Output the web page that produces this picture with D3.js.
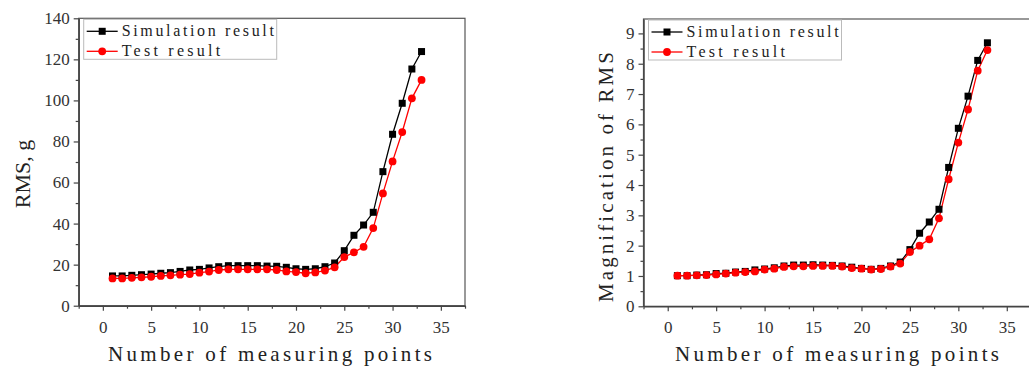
<!DOCTYPE html>
<html>
<head>
<meta charset="utf-8" />
<title>RMS charts</title>
<script src="https://cdn.jsdelivr.net/npm/d3@7"></script>
<style>
  html, body { margin: 0; padding: 0; background: #fff; }
  svg { display: block; }
  .tick text { font-family: "Liberation Serif", "DejaVu Serif", serif; font-size: 17px; fill: #333; }
  .mono { font-family: "Liberation Serif", "DejaVu Serif", serif; fill: #222; }
</style>
</head>
<body>
<svg id="chart" width="1029" height="368"></svg>
<script>
// measuring points 1..33
const points = d3.range(1, 34);

// left chart: RMS, g
const simRms = [14.5, 14.5, 14.8, 15.1, 15.4, 15.8, 16.1, 16.7, 17.4, 17.7, 18.4, 19.0, 19.5, 19.5, 19.5, 19.5, 19.3,
  19.2, 18.7, 18.0, 17.7, 18.0, 19.0, 20.8, 26.8, 34.3, 39.3, 45.5, 65.3, 83.5, 98.6, 115.3, 123.8];
const testRms = [13.3, 13.3, 13.6, 13.8, 14.1, 14.5, 14.8, 15.1, 15.4, 16.1, 16.6, 17.4, 17.7, 17.7, 17.7, 17.7, 17.7,
  17.4, 16.7, 16.4, 15.8, 16.2, 17.1, 18.7, 23.7, 26.0, 28.7, 37.8, 54.7, 70.3, 84.6, 101.0, 110.0];

// right chart: magnification of RMS
const simMag = [1.01, 1.01, 1.03, 1.04, 1.08, 1.09, 1.13, 1.15, 1.20, 1.23, 1.27, 1.33, 1.36, 1.36, 1.37, 1.36, 1.35,
  1.33, 1.29, 1.25, 1.22, 1.25, 1.33, 1.46, 1.87, 2.41, 2.78, 3.20, 4.58, 5.87, 6.93, 8.11, 8.69];
const testMag = [1.01, 1.01, 1.02, 1.03, 1.05, 1.08, 1.11, 1.13, 1.15, 1.21, 1.24, 1.30, 1.32, 1.32, 1.33, 1.33, 1.33,
  1.31, 1.26, 1.24, 1.21, 1.23, 1.31, 1.41, 1.79, 2.00, 2.21, 2.90, 4.19, 5.40, 6.49, 7.77, 8.45];

const xTicks = [0, 5, 10, 15, 20, 25, 30, 35];
const rmsTicks = [0, 20, 40, 60, 80, 100, 120, 140];
const magTicks = [0, 1, 2, 3, 4, 5, 6, 7, 8, 9];
const legendNames = ["Simulation result", "Test result"];

const svg = d3.select('#chart');

function drawChart(opt) {
  const x = d3.scaleLinear().domain([-2.5, 37.5]).range([opt.left, opt.right]);
  const y = d3.scaleLinear().domain(opt.yDomain).range([opt.bottom, opt.top]);
  const g = svg.append('g');

  // frame
  g.append('rect')
    .attr('x', opt.left).attr('y', opt.top)
    .attr('width', opt.right - opt.left).attr('height', opt.bottom - opt.top)
    .attr('fill', 'none').attr('stroke', '#555').attr('stroke-width', 1.2);

  // minor ticks
  const xMinor = d3.range(-2.5, 37.6, 2.5).filter(v => v % 5 !== 0);
  g.append('g').attr('transform', `translate(0,${opt.bottom})`)
    .call(d3.axisBottom(x).tickValues(xMinor).tickSize(3).tickFormat(''))
    .call(a => a.select('.domain').remove())
    .selectAll('line').attr('stroke', '#444').attr('stroke-width', 1.2);
  g.append('g').attr('transform', `translate(${opt.left},0)`)
    .call(d3.axisLeft(y).tickValues(opt.yMinor).tickSize(3).tickFormat(''))
    .call(a => a.select('.domain').remove())
    .selectAll('line').attr('stroke', '#444').attr('stroke-width', 1.2);

  // major axes
  const xa = g.append('g').attr('transform', `translate(0,${opt.bottom})`)
    .call(d3.axisBottom(x).tickValues(xTicks).tickSize(5).tickPadding(10).tickSizeOuter(0));
  const ya = g.append('g').attr('transform', `translate(${opt.left},0)`)
    .call(d3.axisLeft(y).tickValues(opt.yTicks).tickSize(5).tickPadding(4).tickSizeOuter(0));
  [xa, ya].forEach(a => {
    a.select('.domain').attr('stroke', '#444').attr('stroke-width', 1.5);
    a.selectAll('.tick line').attr('stroke', '#444').attr('stroke-width', 1.2);
  });

  // series
  const line = d3.line().x((d, i) => x(points[i])).y(d => y(d));
  g.append('path').datum(opt.sim).attr('d', line)
    .attr('fill', 'none').attr('stroke', '#000').attr('stroke-width', 1.3);
  g.append('path').datum(opt.test).attr('d', line)
    .attr('fill', 'none').attr('stroke', '#f00').attr('stroke-width', 1.3);
  g.selectAll('rect.sq').data(opt.sim).enter().append('rect')
    .attr('class', 'sq')
    .attr('x', (d, i) => x(points[i]) - 3.5).attr('y', d => y(d) - 3.5)
    .attr('width', 7).attr('height', 7).attr('fill', '#000');
  g.selectAll('circle.dot').data(opt.test).enter().append('circle')
    .attr('class', 'dot')
    .attr('cx', (d, i) => x(points[i])).attr('cy', d => y(d))
    .attr('r', 3.9).attr('fill', '#f00');

  // legend
  const lg = g.append('g').attr('transform', `translate(${opt.left + 5},${opt.top + 1})`);
  lg.append('rect').attr('width', 193).attr('height', 40)
    .attr('fill', '#fff').attr('stroke', '#bbb').attr('stroke-width', 1);
  legendNames.forEach((name, i) => {
    const yy = 12 + i * 20;
    const col = i === 0 ? '#000' : '#f00';
    lg.append('line').attr('x1', 3).attr('x2', 34).attr('y1', yy).attr('y2', yy)
      .attr('stroke', col).attr('stroke-width', 1.3);
    if (i === 0) {
      lg.append('rect').attr('x', 15).attr('y', yy - 3.5).attr('width', 7).attr('height', 7).attr('fill', col);
    } else {
      lg.append('circle').attr('cx', 18.5).attr('cy', yy).attr('r', 3.9).attr('fill', col);
    }
    lg.append('text').attr('class', 'mono')
      .attr('x', 38).attr('y', yy + 5)
      .attr('font-size', 16)
      .attr('textLength', name.length * 8.95).attr('lengthAdjust', 'spacing')
      .text(name);
  });

  // x label
  g.append('text').attr('class', 'mono')
    .attr('x', opt.xLabelX).attr('y', 361)
    .attr('font-size', 21)
    .attr('textLength', 324).attr('lengthAdjust', 'spacing')
    .text('Number of measuring points');

  // y label
  const yl = g.append('text').attr('class', 'mono')
    .attr('transform', `translate(${opt.yLabelX},${opt.yLabelY}) rotate(-90)`)
    .attr('text-anchor', 'middle')
    .attr('font-size', opt.yLabelSize)
    .text(opt.yLabel);
  if (opt.yLabelLen) yl.attr('textLength', opt.yLabelLen).attr('lengthAdjust', 'spacing');
}

drawChart({
  left: 78.7, right: 465, top: 18.3, bottom: 305.7,
  yDomain: [0, 140], yTicks: rmsTicks, yMinor: d3.range(10, 140, 20),
  sim: simRms, test: testRms,
  xLabelX: 108, yLabelX: 30, yLabelY: 174, yLabelSize: 22, yLabel: 'RMS, g'
});

drawChart({
  left: 643.5, right: 1031, top: 19, bottom: 306.3,
  yDomain: [0, 9.475], yTicks: magTicks, yMinor: d3.range(0.5, 9.5, 1),
  sim: simMag, test: testMag,
  xLabelX: 675, yLabelX: 613, yLabelY: 177, yLabelSize: 21, yLabel: 'Magnification of RMS', yLabelLen: 250
});
</script>
</body>
</html>
